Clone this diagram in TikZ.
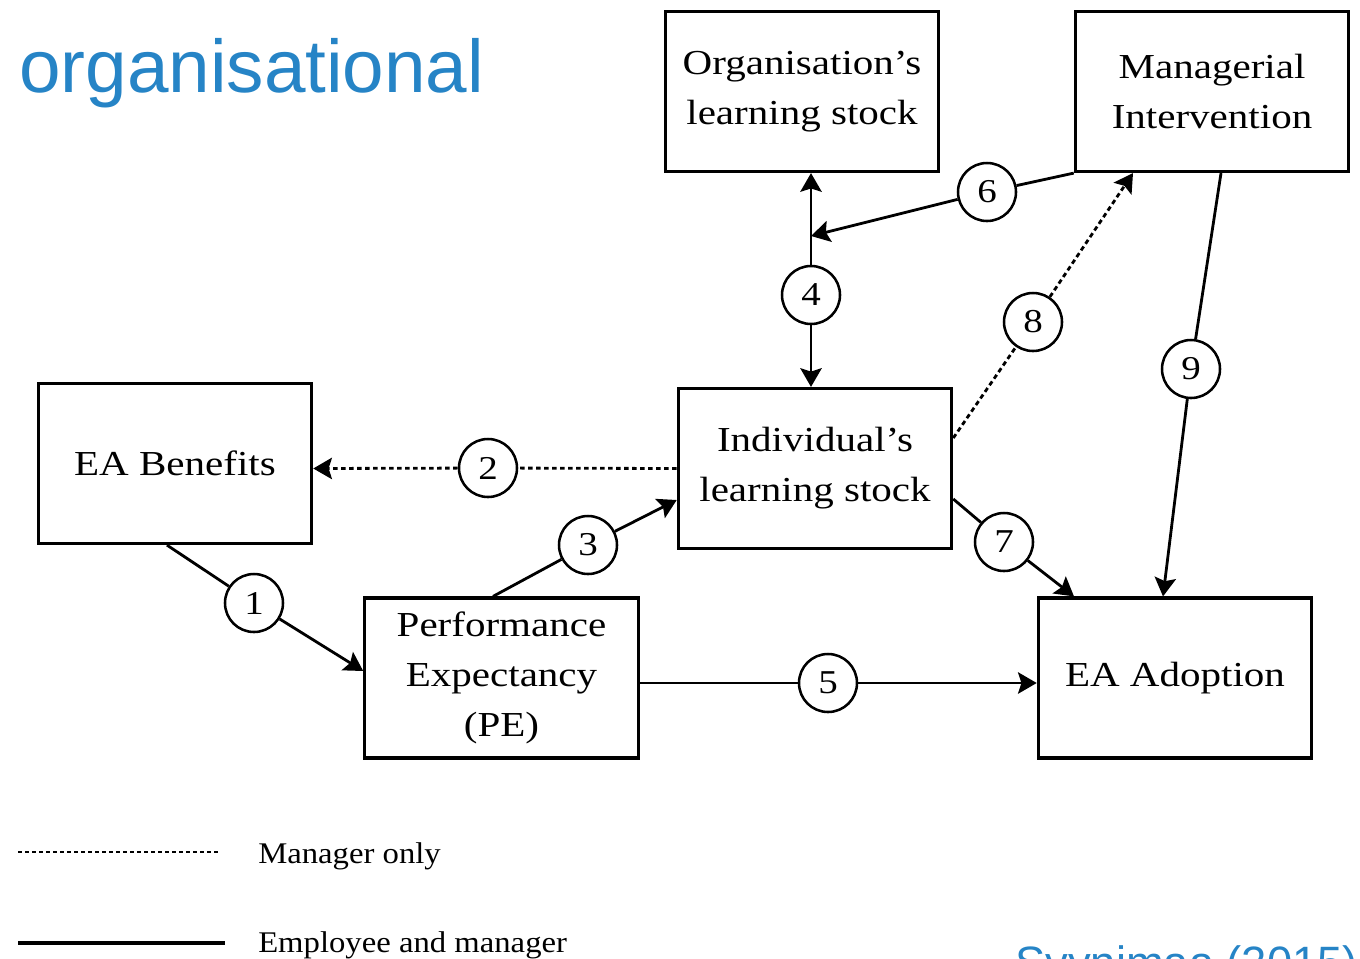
\documentclass[tikz,border=0pt]{standalone}
\usepackage{fontspec}
\setmainfont{Liberation Serif}
\newfontfamily\boxfont[FakeStretch=1.17]{Liberation Serif}
\newfontfamily\legfont[FakeStretch=1.09]{Liberation Serif}
\newfontfamily\slidefont{Liberation Sans}
\usetikzlibrary{arrows.meta,calc}
\definecolor{slideBlue}{RGB}{38,132,198}
\tikzset{
  box/.style={draw,line width=2.4pt,minimum width=205pt,minimum height=120pt,align=center,
    font=\boxfont\fontsize{26.3}{37.5}\selectfont},
  num/.style={draw,circle,line width=1.9pt,minimum size=43.5pt,inner sep=0pt,
    font=\boxfont\fontsize{25}{28}\selectfont},
  link/.style={line width=2.1pt,>={Stealth[length=14pt,width=16pt,inset=2.5pt]},->},
  mgr/.style={link,dash pattern=on 3.5pt off 2.5pt},
  legend/.style={anchor=base west,inner sep=0pt,font=\legfont\fontsize{22.5}{26}\selectfont},
  slide/.style={anchor=base west,inner sep=0pt,text=slideBlue}
}
\begin{document}
\begin{tikzpicture}[x=0.75pt,y=-0.75pt]
\useasboundingbox (0,0) rectangle (1360,958);
\clip (0,0) rectangle (1360,958);

\node[slide,font=\slidefont\fontsize{56}{60}\selectfont] (title) at (19,92) {organisational};
\node[slide,font=\slidefont\fontsize{34}{40}\selectfont] (cite) at (1015,978) {Syynimaa (2015)};

\node[box] (org) at (802,91.5) {Organisation’s\\learning stock};
\node[box] (man) at (1212,91.5) {Managerial\\Intervention};
\node[box] (ben) at (175,463.5) {EA Benefits};
\node[box] (ind) at (815,468.5) {Individual’s\\learning stock};
\node[box] (pe) at (501.5,678) {Performance\\Expectancy\\(PE)};
\node[box] (adopt) at (1175,678) {EA Adoption};

\foreach \n/\x/\y in {1/254/603,2/488/468,3/588/545,4/811/295,5/828/683,6/987/192,7/1004/542,8/1033/322,9/1191/369}
  \node[num] (c\n) at (\x,\y) {\n};

\coordinate (j6) at (811,236);
\draw[link] ($(ben.south)+(-8,0)$) -- (c1) -- ($(pe.west)+(0,-7)$);
\draw[mgr] (ind.west) -- (c2) -- (ind.west -| ben.east);
\draw[link] ($(pe.north)+(-8.5,0)$) -- (c3) -- ($(ind.west)+(0,31.5)$);
\draw[link,<-] ($(org.south)+(9,0)$) -- (c4);
\draw[link] (c4) -- (c4 |- ind.north);
\draw[link] ($(pe.east)+(0,5)$) -- (c5) -- ($(adopt.west)+(0,5)$);
\draw[link] (man.south west) -- (c6) -- (j6);
\draw[link] ($(ind.east)+(0,30.5)$) -- (c7) -- ($(adopt.north)+(-101,0)$);
\draw[mgr] ($(ind.east)+(0,-30.5)$) -- (c8) -- ($(man.south)+(-79,0)$);
\draw[link] ($(man.south)+(9,0)$) -- (c9) -- ($(adopt.north)+(-12,0)$);

\coordinate (lgA) at (18,852);
\coordinate (lgB) at (220,852);
\coordinate (lgC) at (18,943);
\coordinate (lgD) at (225,943);
\draw[line width=1.8pt,dash pattern=on 3pt off 2.25pt] (lgA) -- (lgB);
\draw[line width=2.4pt] (lgC) -- (lgD);
\node[legend] (lgMan) at (258,863) {Manager only};
\node[legend] (lgEmp) at (258,952) {Employee and manager};
\end{tikzpicture}
\end{document}
